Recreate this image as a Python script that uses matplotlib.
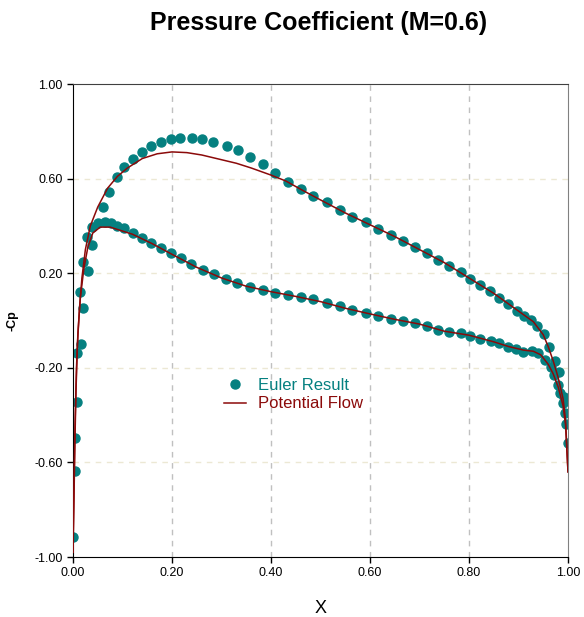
import matplotlib
matplotlib.use("Agg")
import matplotlib.pyplot as plt

plt.rcParams["font.family"] = ["Liberation Sans", "DejaVu Sans"]

# Euler result, upper surface (x, -Cp)
euler_upper_x = [0.000, 0.004, 0.008, 0.014, 0.020, 0.028, 0.038, 0.061, 0.073, 0.088,
                 0.104, 0.122, 0.139, 0.158, 0.177, 0.197, 0.217, 0.240, 0.261, 0.283,
                 0.311, 0.333, 0.358, 0.383, 0.408, 0.434, 0.461, 0.485, 0.514, 0.539,
                 0.564, 0.591, 0.617, 0.642, 0.667, 0.690, 0.715, 0.738, 0.760, 0.783,
                 0.802, 0.822, 0.842, 0.861, 0.878, 0.896, 0.911, 0.925, 0.938, 0.952,
                 0.962, 0.974, 0.982, 0.991, 0.996, 0.999]
euler_upper_cp = [-0.915, -0.497, -0.137, 0.120, 0.247, 0.353, 0.395, 0.480, 0.545, 0.605,
                  0.648, 0.683, 0.714, 0.739, 0.756, 0.767, 0.773, 0.773, 0.767, 0.756,
                  0.739, 0.720, 0.693, 0.660, 0.625, 0.587, 0.556, 0.526, 0.500, 0.466,
                  0.439, 0.415, 0.388, 0.362, 0.336, 0.310, 0.284, 0.257, 0.232, 0.204,
                  0.174, 0.150, 0.125, 0.097, 0.068, 0.041, 0.020, 0.002, -0.023, -0.059,
                  -0.113, -0.170, -0.216, -0.322, -0.439, -0.519]

# Euler result, lower surface
euler_lower_x = [0.004, 0.008, 0.016, 0.020, 0.030, 0.039, 0.051, 0.065, 0.076, 0.089,
                 0.103, 0.122, 0.139, 0.158, 0.178, 0.197, 0.218, 0.238, 0.262, 0.285,
                 0.309, 0.332, 0.358, 0.383, 0.408, 0.435, 0.461, 0.485, 0.513, 0.539,
                 0.564, 0.591, 0.617, 0.642, 0.667, 0.691, 0.715, 0.737, 0.760, 0.784,
                 0.802, 0.822, 0.844, 0.861, 0.879, 0.895, 0.910, 0.927, 0.940, 0.954,
                 0.965, 0.972, 0.980, 0.984, 0.989, 0.994]
euler_lower_cp = [-0.636, -0.345, -0.099, 0.053, 0.209, 0.319, 0.414, 0.415, 0.414, 0.401,
                  0.390, 0.369, 0.349, 0.328, 0.305, 0.284, 0.263, 0.238, 0.214, 0.195,
                  0.175, 0.157, 0.143, 0.129, 0.118, 0.108, 0.098, 0.089, 0.073, 0.061,
                  0.044, 0.033, 0.020, 0.008, -0.002, -0.012, -0.023, -0.040, -0.050, -0.054,
                  -0.064, -0.080, -0.087, -0.096, -0.111, -0.122, -0.132, -0.128, -0.139, -0.167,
                  -0.198, -0.230, -0.273, -0.308, -0.350, -0.392]

# Potential flow, upper surface
pot_upper_x = [0.000, 0.002, 0.004, 0.006, 0.009, 0.013, 0.018, 0.025, 0.035, 0.050,
               0.070, 0.090, 0.110, 0.140, 0.170, 0.200, 0.230, 0.260, 0.300, 0.330,
               0.360, 0.400, 0.430, 0.460, 0.500, 0.550, 0.600, 0.650, 0.700, 0.750,
               0.800, 0.850, 0.880, 0.910, 0.930, 0.950, 0.960, 0.970, 0.980, 0.990,
               0.995, 1.000]
pot_upper_cp = [-0.98, -0.75, -0.50, -0.30, -0.10, 0.05, 0.18, 0.30, 0.40, 0.48,
                0.56, 0.61, 0.645, 0.685, 0.705, 0.713, 0.710, 0.700, 0.680, 0.665,
                0.645, 0.615, 0.590, 0.555, 0.510, 0.455, 0.405, 0.355, 0.300, 0.245,
                0.180, 0.115, 0.070, 0.025, -0.005, -0.060, -0.110, -0.170, -0.240, -0.330,
                -0.420, -0.640]

# Potential flow, lower surface
pot_lower_x = [0.000, 0.002, 0.004, 0.007, 0.010, 0.015, 0.022, 0.030, 0.040, 0.055,
               0.075, 0.090, 0.120, 0.160, 0.200, 0.250, 0.300, 0.350, 0.400, 0.450,
               0.500, 0.550, 0.600, 0.650, 0.700, 0.750, 0.800, 0.850, 0.880, 0.910,
               0.930, 0.945, 0.960, 0.970, 0.980, 0.990, 0.995, 1.000]
pot_lower_cp = [-0.98, -0.70, -0.45, -0.20, -0.05, 0.10, 0.22, 0.31, 0.37, 0.395,
                0.395, 0.385, 0.365, 0.325, 0.280, 0.225, 0.180, 0.145, 0.122, 0.102,
                0.080, 0.052, 0.028, 0.005, -0.015, -0.045, -0.062, -0.090, -0.110, -0.125,
                -0.130, -0.145, -0.185, -0.225, -0.280, -0.360, -0.440, -0.640]

euler_color = "#058080"
pot_color = "#8b0a0a"

fig = plt.figure(figsize=(5.84, 6.17), dpi=100)
ax = fig.add_axes([0.125, 0.0972, 0.8476, 0.7666])

ax.plot(pot_upper_x, pot_upper_cp, color=pot_color, lw=1.1, zorder=3)
ax.plot(pot_lower_x, pot_lower_cp, color=pot_color, lw=1.1, zorder=3, label="Potential Flow")
ax.plot(euler_upper_x, euler_upper_cp, "o", color=euler_color, ms=6.5, mec=euler_color, zorder=2,
        label="Euler Result")
ax.plot(euler_lower_x, euler_lower_cp, "o", color=euler_color, ms=6.5, mec=euler_color, zorder=2)

ax.set_xlim(0, 1)
ax.set_ylim(-1, 1)
ax.set_xticks([0.0, 0.2, 0.4, 0.6, 0.8, 1.0])
ax.set_yticks([-1.0, -0.6, -0.2, 0.2, 0.6, 1.0])
ax.xaxis.set_major_formatter(matplotlib.ticker.FormatStrFormatter("%.2f"))
ax.yaxis.set_major_formatter(matplotlib.ticker.FormatStrFormatter("%.2f"))
ax.tick_params(labelsize=9, length=4, width=1, direction="out")

# grid lines: gray dashed verticals, beige dashed horizontals
for gx in [0.2, 0.4, 0.6, 0.8]:
    ax.axvline(gx, color="#c0c0c0", ls=(0, (4, 4)), lw=1, zorder=0)
for gy in [-0.6, -0.2, 0.2, 0.6]:
    ax.axhline(gy, color="#ece8d4", ls=(0, (4, 4)), lw=1, zorder=0)

ax.spines["left"].set_color("black")
ax.spines["bottom"].set_color("black")
ax.spines["top"].set_color("#404040")
ax.spines["right"].set_color("#808080")

ax.set_xlabel("X", fontsize=13, labelpad=15)
ax.set_ylabel("-Cp", fontsize=9, fontweight="bold")
ax.yaxis.set_label_coords(-0.11, 0.5)
fig.suptitle("Pressure Coefficient (M=0.6)", fontsize=18, fontweight="bold", x=0.545, y=0.982)

handles, labels = ax.get_legend_handles_labels()
leg = ax.legend(handles[::-1], labels[::-1], loc="upper left", bbox_to_anchor=(0.275, 0.41),
                frameon=False, fontsize=12, handlelength=1.3, handletextpad=0.75,
                labelspacing=0.2)
leg.get_texts()[0].set_color(euler_color)
leg.get_texts()[1].set_color(pot_color)

fig.savefig("out.png", dpi=100)
